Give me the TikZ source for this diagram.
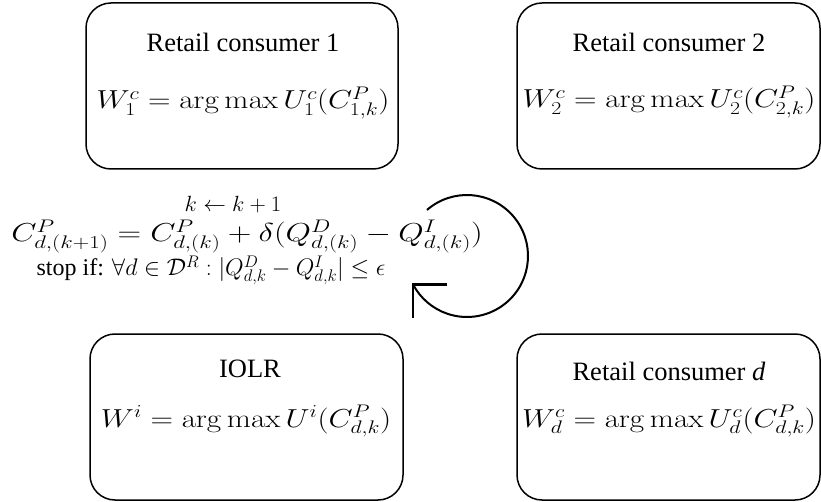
\RequirePackage{fix-cm}
\documentclass[tikz,border=0pt]{standalone}
\usepackage[no-math]{fontspec}
\usepackage{graphicx}
\setmainfont{Liberation Serif}
\newcommand{\wide}[2][1.2]{\scalebox{#1}[1]{#2}}
\begin{document}
\begin{tikzpicture}[x=1pt,y=-1pt,
  box/.style={draw,line width=1.5pt,rounded corners=25pt,minimum width=#1,minimum height=166pt,inner sep=0pt},
  box/.default=305pt,
  ttl/.style={font=\fontsize{26.5}{32}\selectfont,inner sep=0pt,anchor=base},
  frm/.style={font=\fontsize{26}{31}\selectfont,inner sep=0pt,anchor=base},
  mid/.style={inner sep=0pt,anchor=base}]
\useasboundingbox (0,0) rectangle (821,502);
% boxes
\node[box=312pt] (b1) at (242,86) {};
\node[box=303pt] (b2) at (668.5,86) {};
\node[box=313pt] (b3) at (246.5,417) {};
\node[box=303pt] (b4) at (668.5,417) {};
% titles
\node[ttl] (t1) at (243,52) {Retail consumer 1};
\node[ttl] (t2) at (669,52) {Retail consumer 2};
\node[ttl] (t3) at (250,377) {IOLR};
\node[ttl] (t4) at (669,380) {Retail consumer \textit{d}};
% formulas
\node[frm] (f1) at (243,109) {\wide{$W_1^c = \arg\max U_1^c(C^P_{1,k})$}};
\node[frm] (f2) at (669,108) {\wide{$W_2^c = \arg\max U_2^c(C^P_{2,k})$}};
\node[frm] (f3) at (246,427) {\wide{$W^i = \arg\max U^i(C^P_{d,k})$}};
\node[frm] (f4) at (669,427) {\wide{$W_d^c = \arg\max U_d^c(C^P_{d,k})$}};
% middle text
\node[mid,font=\fontsize{22}{26}\selectfont] (m1) at (233,212) {\wide[1.03]{$k \leftarrow k+1$}};
\node[mid,font=\fontsize{26}{31}\selectfont] (m2) at (247,242) {\wide[1.26]{$C^P_{d,(k+1)} = C^P_{d,(k)} + \delta(Q^D_{d,(k)} - Q^I_{d,(k)})$}};
\node[mid,font=\fontsize{24}{29}\selectfont] (m3) at (211,276) {stop if: $\forall d \in \mathcal{D}^R : |Q^D_{d,k} - Q^I_{d,k}| \leq \epsilon$};
% circular arrow
\coordinate (cc) at (467,256);
\draw[line width=2pt] ([shift={(-131:61)}]cc) arc[start angle=-131,end angle=152,radius=61];
\coordinate (tip) at ([shift={(152:61)}]cc);
\draw[line width=2.6pt] ([xshift=34pt]tip) -- (tip) -- ([yshift=-33pt]tip);
\end{tikzpicture}
\end{document}
